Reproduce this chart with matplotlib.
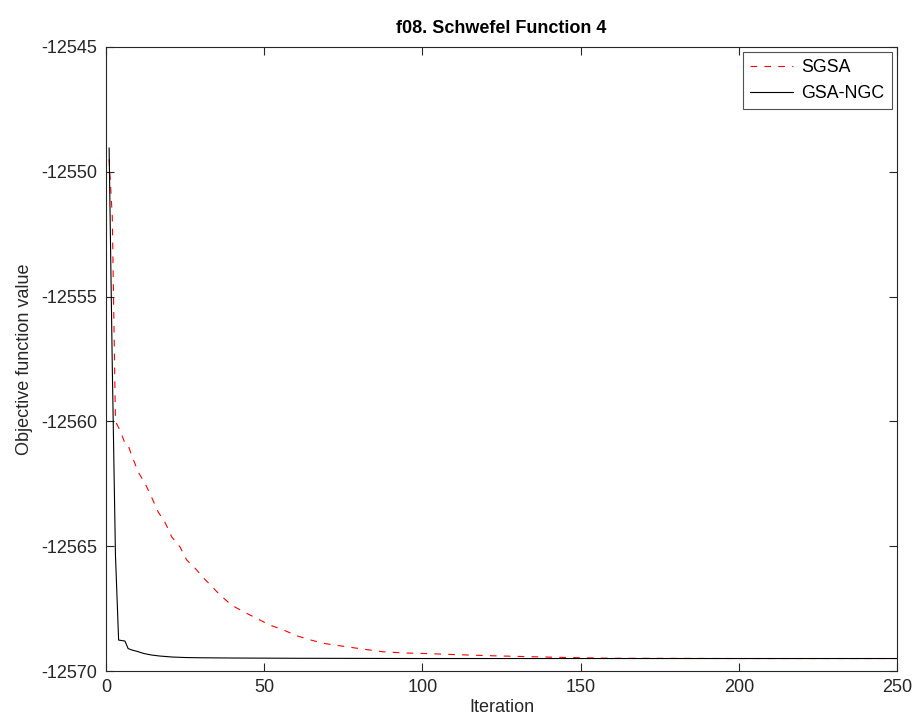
import matplotlib
matplotlib.use("Agg")
import matplotlib.pyplot as plt

plt.rcParams['font.family'] = ['Liberation Sans', 'DejaVu Sans']

# Convergence curves (iteration, best objective value)
sgsa_iter = [1, 2, 3, 4.4, 6, 7, 8.1, 10.2, 12.3, 14.4, 16.5, 18.6, 20.8, 23.4, 25.5,
             28.1, 30.8, 33, 36, 39.7, 43.4, 47.6, 51.8, 56, 60.3, 64.5, 68.7, 71.7,
             80, 87.5, 95, 103.3, 112, 122.3, 135, 150, 160, 200, 250]
sgsa_val = [-12549.5, -12551.8, -12560.0, -12560.35, -12560.87, -12560.95, -12561.35,
            -12562.03, -12562.47, -12563.03, -12563.63, -12564.03, -12564.63, -12565.03,
            -12565.55, -12565.87, -12566.27, -12566.55, -12566.95, -12567.36, -12567.62,
            -12567.89, -12568.16, -12568.35, -12568.59, -12568.75, -12568.89, -12568.95,
            -12569.1, -12569.23, -12569.28, -12569.31, -12569.35, -12569.39, -12569.43,
            -12569.47, -12569.49, -12569.5, -12569.5]

ngc_iter = [1, 2, 3, 4, 5, 6, 7, 8, 10, 12, 14.4, 17, 20.9, 25, 30, 40, 60, 100, 150, 250]
ngc_val = [-12549.05, -12557.8, -12565.35, -12568.76, -12568.78, -12568.8, -12569.1,
           -12569.15, -12569.22, -12569.3, -12569.36, -12569.4, -12569.44, -12569.46,
           -12569.47, -12569.48, -12569.49, -12569.5, -12569.5, -12569.5]

x_ticks = [0, 50, 100, 150, 200, 250]
y_ticks = [-12570, -12565, -12560, -12555, -12550, -12545]

fig = plt.figure(figsize=(9.15, 7.24), dpi=100)
ax = fig.add_axes([0.1158, 0.0732, 0.8645, 0.8619])

ax.plot(sgsa_iter, sgsa_val, color='red', linestyle=(0, (6, 6.5)), linewidth=0.8, label='SGSA')
ax.plot(ngc_iter, ngc_val, color='black', linestyle='-', linewidth=0.8, label='GSA-NGC')

ax.set_xlim(0, 250)
ax.set_ylim(-12570, -12545)
ax.set_xticks(x_ticks)
ax.set_yticks(y_ticks)
ax.set_yticklabels([str(v) for v in y_ticks])

axis_grey = '#262626'
for s in ax.spines.values():
    s.set_color(axis_grey)
    s.set_linewidth(0.8)
ax.tick_params(direction='in', top=True, right=True, length=6, width=0.8,
               colors=axis_grey, labelsize=13, pad=6)
for lbl in ax.get_xticklabels() + ax.get_yticklabels():
    lbl.set_color('#262626')

ax.set_xlabel('Iteration', fontsize=13, color='#262626', labelpad=2)
ax.set_ylabel('Objective function value', fontsize=13, color='#262626', labelpad=6)
ax.set_title('f08. Schwefel Function 4', fontsize=13, fontweight='bold', pad=10)

leg = ax.legend(loc='upper right', fontsize=12.8, frameon=True, fancybox=False,
                edgecolor='#262626', borderaxespad=0.3, handlelength=2.4,
                borderpad=0.4, labelspacing=0.5, handletextpad=0.5)
leg.get_frame().set_linewidth(0.8)

fig.savefig('out.png', dpi=100)
